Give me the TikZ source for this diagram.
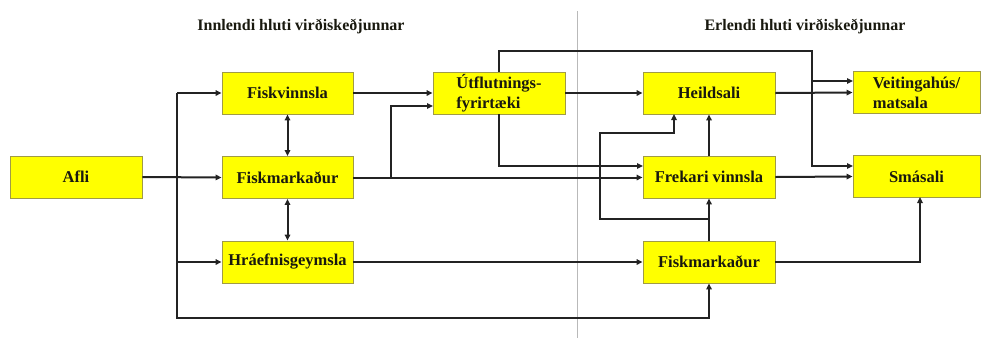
\documentclass[tikz,border=0pt]{standalone}
\usepackage{fontspec}
\setmainfont{Liberation Serif}
\usetikzlibrary{arrows.meta}
\definecolor{boxfill}{RGB}{255,255,0}
\definecolor{boxline}{RGB}{160,155,70}
\definecolor{lnc}{RGB}{35,35,35}
\definecolor{txt}{RGB}{25,25,15}
\tikzset{
  fbox/.style={draw=boxline, line width=0.9pt, fill=boxfill, minimum width=132pt, minimum height=42pt,
    inner sep=0pt, text=txt, font=\fontsize{16.5}{20}\selectfont\bfseries, align=left},
  ln/.style={draw=lnc, line width=2pt},
  arr/.style={ln, -{Triangle[length=6pt,width=5.5pt]}},
  darr/.style={ln, {Triangle[length=6pt,width=5.5pt]}-{Triangle[length=6pt,width=5.5pt]}},
  ttl/.style={text=txt, font=\fontsize{16}{19}\selectfont\bfseries}
}
\begin{document}
\begin{tikzpicture}[x=1pt,y=-1pt]
\useasboundingbox (0,0) rectangle (982,338);
% divider
\draw[gray!55, line width=0.8pt] (577,11) -- (577,338);
% titles
\node[ttl] (t1) at (301,27) {Innlendi hluti virðiskeðjunnar};
\node[ttl] (t2) at (805,27) {Erlendi hluti virðiskeðjunnar};
% boxes
\node[fbox] (afli) at (76,177) {Afli};
\node[fbox, minimum width=131pt] (fv) at (287.5,93) {Fiskvinnsla};
\node[fbox, minimum width=131pt] (fmL) at (287.5,177.5) {Fiskmarkaður};
\node[fbox, minimum width=131pt] (hraef) at (287.5,262) {Hráefnisgeymsla};
\node[fbox] (utfl) at (499,93) {Útflutnings-\\fyrirtæki};
\node[fbox] (heild) at (709,93) {Heildsali};
\node[fbox, minimum width=127pt] (veit) at (916.5,92.5) {Veitingahús/\\matsala};
\node[fbox] (frek) at (709,177) {Frekari vinnsla};
\node[fbox, minimum width=127pt] (smas) at (916.5,176.5) {Smásali};
\node[fbox] (fmR) at (709,262) {Fiskmarkaður};
% helper coordinates
\coordinate (trunk) at (177,0);
\coordinate (bl) at (177,318);
\coordinate (brA) at (391,177.5);
\coordinate (uIn) at (433,106);
\coordinate (fIn) at (643,166);
\coordinate (tc) at (812,51);
\coordinate (vb) at (812,81);
\coordinate (vIn) at (853,81);
\coordinate (sIn) at (853,166);
\coordinate (lp1) at (709,219);
\coordinate (lp2) at (600,133);
\coordinate (hIn) at (674,114);
\coordinate (sBot) at (920,197);
% left part
\draw[arr] (afli.east) -- (fmL.west);
\draw[arr] (fv.west -| trunk) -- (fv.west);
\draw[arr] (hraef.west -| trunk) -- (hraef.west);
\draw[arr] (fv.west -| trunk) -- (bl) -| (fmR.south);
\draw[darr] (fv.south) -- (fmL.north);
\draw[darr] (fmL.south) -- (hraef.north);
\draw[arr] (fv.east) -- (fv.east -| utfl.west);
\draw[arr] (fmL.east) -- (fmL.east -| frek.west);
\draw[arr] (brA) |- (uIn);
\draw[arr] (hraef.east) -- (fmR.west);
% export company
\draw[arr] (utfl.east) -- (heild.west);
\draw[arr] (utfl.south) |- (fIn);
\draw[arr] (utfl.north) |- (tc) |- (sIn);
\draw[arr] (vb) -- (vIn);
% right part
\draw[arr] (heild.east) -- (veit.west);
\draw[arr] (frek.east) -- (smas.west);
\draw[arr] (frek.north) -- (heild.south);
\draw[arr] (fmR.north) -- (frek.south);
\draw[arr] (lp1) -| (lp2) -| (hIn);
\draw[arr] (fmR.east) -| (sBot);
\end{tikzpicture}
\end{document}
